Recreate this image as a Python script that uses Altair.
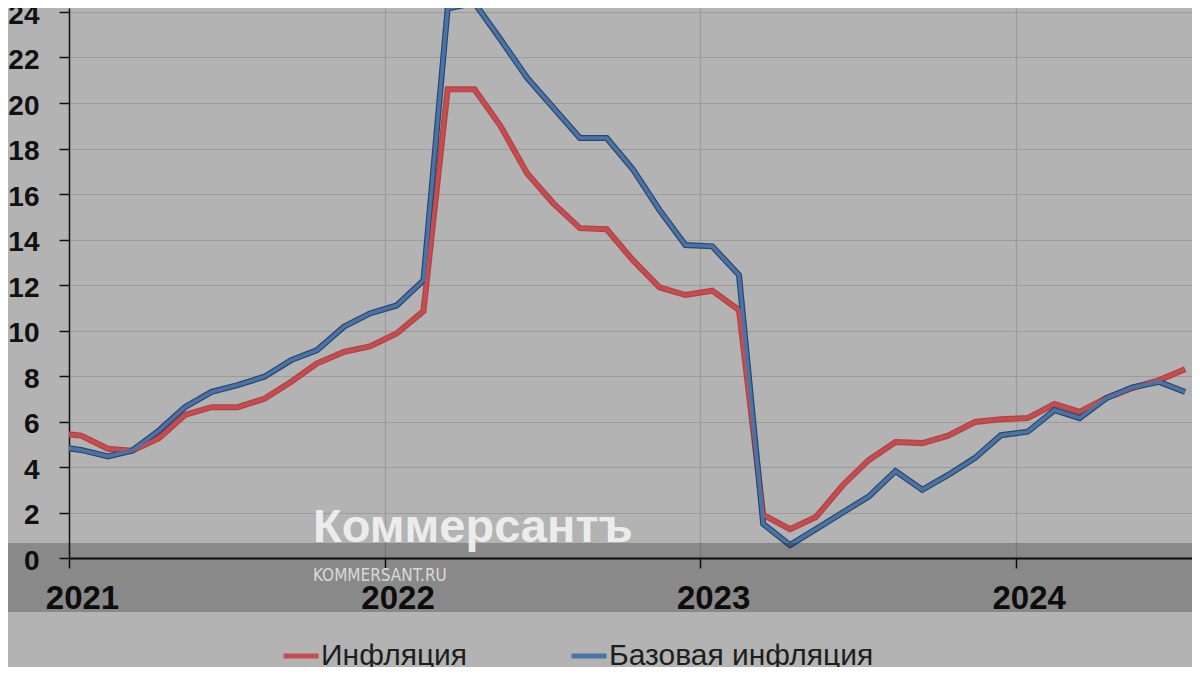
import altair as alt
import pandas as pd

# Monthly observations (mid-month), Dec 2020 .. Jul 2024
months = [f"{y}-{m:02d}-15" for y in range(2020, 2025) for m in range(1, 13)]
months = months[11:11 + 44]

inflation = [5.5,
             5.38, 4.8, 4.72, 5.27, 6.29, 6.63, 6.63, 7.0, 7.75, 8.56, 9.06, 9.3,
             9.87, 10.85, 20.6, 20.6, 19.0, 16.9, 15.6, 14.5, 14.45, 13.1, 11.9, 11.56,
             11.75, 10.9, 1.9, 1.27, 1.8, 3.2, 4.3, 5.1, 5.05, 5.38, 5.98, 6.1,
             6.15, 6.77, 6.42, 7.03, 7.47, 7.82, 8.3]
core = [4.9,
        4.75, 4.47, 4.72, 5.6, 6.63, 7.3, 7.6, 7.97, 8.7, 9.14, 10.17, 10.75,
        11.1, 12.2, 24.15, 24.4, 22.8, 21.1, 19.8, 18.46, 18.46, 17.1, 15.3, 13.76,
        13.7, 12.44, 1.5, 0.57, 1.27, 2.0, 2.7, 3.82, 3.0, 3.65, 4.4, 5.4,
        5.55, 6.5, 6.15, 7.03, 7.5, 7.74, 7.3]

series_names = ["Инфляция", "Базовая инфляция"]
series_colors = ["#c64d4f", "#4a74a8"]
outline_colors = ["#b04245", "#2b466b"]
y_ticks = list(range(0, 25, 2))
year_ticks = [2021, 2022, 2023, 2024]

df = pd.concat([
    pd.DataFrame({"date": months, "value": inflation, "series": series_names[0], "ord": 0}),
    pd.DataFrame({"date": months, "value": core, "series": series_names[1], "ord": 1}),
])
df["outline"] = df["series"]

FONT = "Liberation Sans"
W, H = 1123, 550

x_enc = alt.X(
    "date:T",
    scale=alt.Scale(type="utc",
                    domain=[alt.DateTime(year=2021, month=1, date=1, utc=True),
                            alt.DateTime(year=2024, month=7, date=23, utc=True)]),
    axis=alt.Axis(
        values=[alt.DateTime(year=y, month=1, date=1, utc=True) for y in year_ticks],
        format="%Y", title=None, labelFlush=False, labelOffset=13,
        labelFont=FONT, labelFontSize=33, labelFontWeight="bold", labelColor="#111111",
        labelPadding=14, tickSize=10, tickColor="#111111", tickWidth=1.5,
        domainColor="#111111", domainWidth=2,
        grid=True, gridColor="#9b9b9b", gridWidth=1.2,
    ),
)
y_enc = alt.Y(
    "value:Q",
    scale=alt.Scale(domain=[0, H / 22.75], nice=False, zero=False),
    axis=alt.Axis(
        values=y_ticks, title=None, labelFont=FONT, labelFontSize=28,
        labelFontWeight="bold", labelColor="#111111", labelPadding=20, labelOffset=3,
        tickSize=10, tickColor="#111111", tickWidth=1.5,
        domainColor="#111111", domainWidth=1.5,
        grid=True, gridColor="#9b9b9b", gridWidth=1.2,
    ),
)

base = alt.Chart(df)

outline = base.mark_line(clip=True, strokeWidth=6, strokeJoin="miter").encode(
    x=x_enc, y=y_enc,
    stroke=alt.Stroke("outline:N", scale=alt.Scale(domain=series_names, range=outline_colors), legend=None),
    order="ord:Q",
)

inner = base.mark_line(clip=True, strokeWidth=3.6, strokeJoin="miter").encode(
    x=x_enc, y=y_enc,
    color=alt.Color(
        "series:N",
        scale=alt.Scale(domain=series_names, range=series_colors),
        legend=alt.Legend(
            title=None, orient="none", legendX=212, legendY=628, direction="horizontal",
            symbolType="stroke", symbolSize=1225, symbolStrokeWidth=5,
            labelFont=FONT, labelFontSize=30, labelColor="#1e1e1e", labelOffset=0,
            columnPadding=93, padding=0, rowPadding=0, labelLimit=400,
        ),
    ),
)

band = alt.Chart(pd.DataFrame({"a": [0]})).mark_rect(
    clip=False, color="#000000", opacity=0.23
).encode(x=alt.value(-61), x2=alt.value(W), y=alt.value(535), y2=alt.value(604))

wm1 = alt.Chart(pd.DataFrame({"t": ["Коммерсантъ"]})).mark_text(
    clip=False, align="left", baseline="alphabetic", font=FONT, fontSize=47,
    fontWeight="bold", color="#f0f0f0", opacity=0.95,
).encode(text="t:N", x=alt.value(244), y=alt.value(534))

wm2 = alt.Chart(pd.DataFrame({"t": ["KOMMERSANT.RU"]})).mark_text(
    clip=False, align="left", baseline="alphabetic",
    font="Liberation Sans Narrow, DejaVu Sans Condensed, Liberation Sans", fontSize=17,
    color="#d9d9d9",
).encode(text="t:N", x=alt.value(244), y=alt.value(573))

chart = alt.layer(outline, inner, band, wm1, wm2).resolve_scale(
    color="independent", stroke="independent"
).properties(
    width=W, height=H,
    autosize=alt.AutoSizeParams(type="none"),
    padding={"left": 61, "top": 0, "right": 0, "bottom": 109},
    background="#b3b3b3",
).configure_view(stroke=None, fill="#b3b3b3")

chart.save("out.html", embed_options={"renderer": "svg", "actions": False})
